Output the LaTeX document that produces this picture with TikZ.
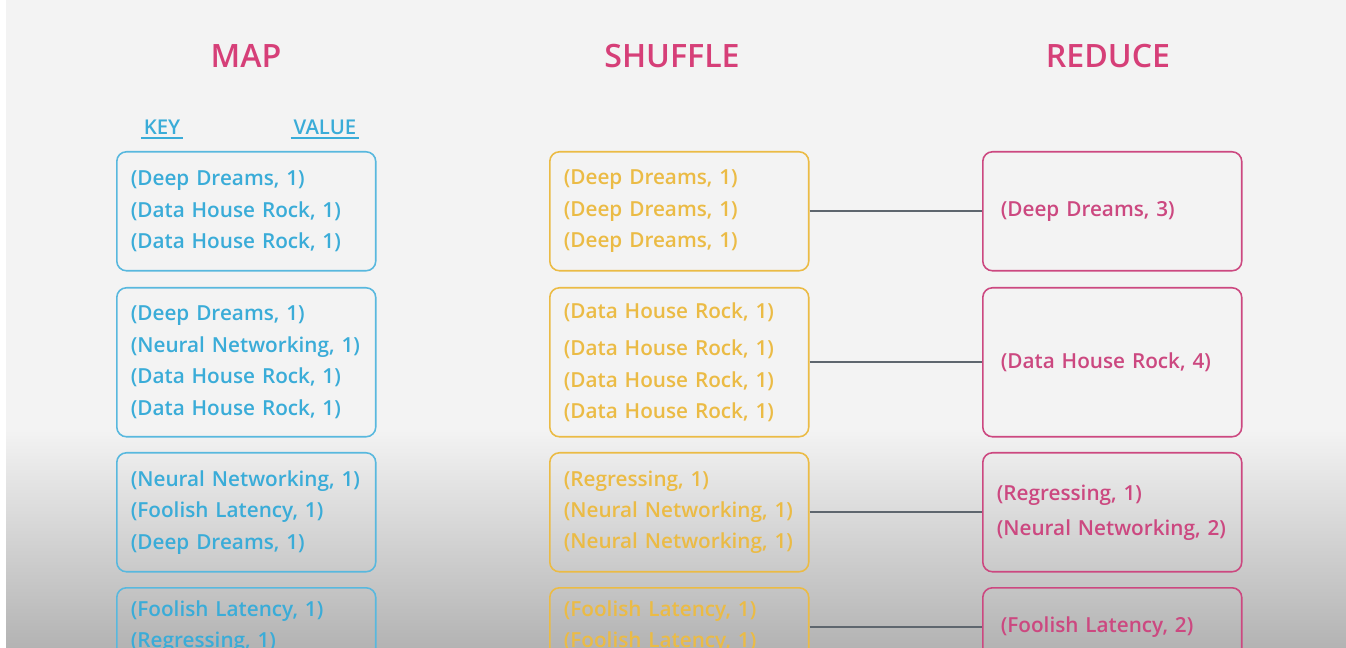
\documentclass[tikz,border=0pt]{standalone}
\usepackage{fontspec}
% semibold face if it is there, else bold at a slightly smaller size
\IfFontExistsTF{Open Sans Semibold}{%
    \setmainfont{Open Sans Semibold}\def\bodyfs{11.8}\def\titlefs{18.3}\def\headfs{11.6}}{%
  \IfFontExistsTF{Open Sans SemiBold}{%
    \setmainfont{Open Sans SemiBold}\def\bodyfs{11.8}\def\titlefs{18.3}\def\headfs{11.6}}{%
    \setmainfont{Open Sans}\AtBeginDocument{\bfseries}\def\bodyfs{11.4}\def\titlefs{17.8}\def\headfs{11.2}}}
\usepackage{tikz}
\usetikzlibrary{positioning}

\definecolor{mapblue}{HTML}{3AACD8}
\definecolor{shfyellow}{HTML}{EBBB45}
\definecolor{redpink}{HTML}{CC4880}
\definecolor{titlepink}{HTML}{D63F78}
\definecolor{linkgray}{HTML}{5E666E}
\definecolor{bgtop}{HTML}{F3F3F3}
\definecolor{bgbot}{HTML}{B3B3B3}

\begin{document}
\begin{tikzpicture}[
    x=0.02cm, y=-0.02cm,
    title/.style={font=\fontsize{\titlefs}{22}\selectfont, text=titlepink},
    colhead/.style={font=\fontsize{\headfs}{13}\selectfont, text=mapblue, inner xsep=1.5pt, inner ysep=2pt,
        append after command={(\tikzlastnode.south west) edge[draw=mapblue, line width=1.1pt] (\tikzlastnode.south east)}},
    pairs/.style={rectangle, rounded corners=5.5pt, line width=0.9pt, anchor=north west, minimum width=5.18cm,
        inner xsep=0.28cm, inner ysep=0pt, text width=4.62cm, align=left, font=\fontsize{\bodyfs}{17.9}\selectfont},
    mapbox/.style={pairs, draw=mapblue!85, text=mapblue},
    shfbox/.style={pairs, draw=shfyellow, text=shfyellow},
    redbox/.style={pairs, draw=redpink, text=redpink, inner xsep=0.36cm, text width=4.46cm},
    link/.style={draw=linkgray, line width=1pt}
]

% page and background (grey fade towards the bottom)
\useasboundingbox (0,0) rectangle (1346,648);
\fill[white] (0,0) rectangle (1346,648);
\fill[bgtop] (6,0) rectangle (1346,430);
\shade[top color=bgtop, bottom color=bgbot] (6,430) rectangle (1346,648);

% Column titles
\node[title] (tmap) at (246,56) {MAP};
\node[title] (tshf) at (672,56) {SHUFFLE};
\node[title] (tred) at (1108,56) {REDUCE};
\node[colhead] (key) at (162,127) {KEY};
\node[colhead] (value) at (325,127) {VALUE};

% Map: emitted (key, value) pairs
\node[mapbox, minimum height=2.38cm] (map1) at (116,151) {(Deep Dreams, 1)\\ (Data House Rock, 1)\\ (Data House Rock, 1)};
\node[mapbox, minimum height=2.98cm] (map2) at (116,287) {(Deep Dreams, 1)\\ (Neural Networking, 1)\\ (Data House Rock, 1)\\ (Data House Rock, 1)};
\node[mapbox, minimum height=2.38cm] (map3) at (116,452) {(Neural Networking, 1)\\ (Foolish Latency, 1)\\ (Deep Dreams, 1)};
\node[mapbox, minimum height=1.56cm] (map4) at (116,587) {(Foolish Latency, 1)\\ (Regressing, 1)};

% Shuffle: pairs grouped by key
\node[shfbox, minimum height=2.38cm] (shf1) at (549,151) {(Deep Dreams, 1)\\ (Deep Dreams, 1)\\ (Deep Dreams, 1)};
\node[shfbox, minimum height=2.98cm] (shf2) at (549,287) {(Data House Rock, 1)\\[3.4pt] (Data House Rock, 1)\\ (Data House Rock, 1)\\ (Data House Rock, 1)};
\node[shfbox, minimum height=2.38cm] (shf3) at (549,452) {(Regressing, 1)\\ (Neural Networking, 1)\\ (Neural Networking, 1)};
\node[shfbox, minimum height=1.56cm] (shf4) at (549,587) {(Foolish Latency, 1)\\ (Foolish Latency, 1)};

% Reduce: summed counts
\node[redbox, minimum height=2.38cm] (red1) at (982,151) {(Deep Dreams, 3)};
\node[redbox, minimum height=2.98cm] (red2) at (982,287) {(Data House Rock, 4)};
\node[redbox, minimum height=2.38cm, inner xsep=0.28cm, text width=4.62cm] (red3) at (982,452) {(Regressing, 1)\\[2pt] (Neural Networking, 2)};
\node[redbox, minimum height=1.56cm] (red4) at (982,587) {(Foolish Latency, 2)};

% Connections
\foreach \i in {1,...,4}
    \draw[link] (shf\i.east) -- (red\i.west);

\end{tikzpicture}
\end{document}
